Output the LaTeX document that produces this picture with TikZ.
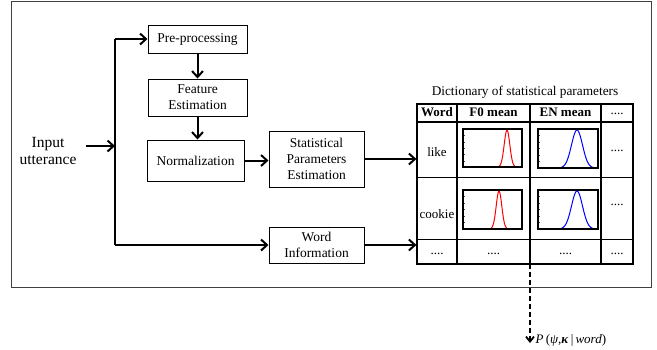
\documentclass[tikz,border=0pt]{standalone}
\usepackage{fontspec}
\setmainfont{Liberation Serif}
\usetikzlibrary{arrows.meta}
\begin{document}
\begin{tikzpicture}[x=1pt,y=-1pt,
  box/.style={draw, line width=1pt, align=center, inner sep=0pt,
    font=\fontsize{13.5}{16}\selectfont},
  arr/.style={line width=2pt, -{Straight Barb[length=6pt,width=11pt,line width=2pt]}},
  dasharr/.style={line width=2pt, dash pattern=on 5pt off 3pt,
    -{Straight Barb[length=5pt,width=8pt,line width=1.8pt]}},
  cell/.style={anchor=base, inner sep=0pt, font=\fontsize{13}{15}\selectfont},
  hcell/.style={cell, font=\fontsize{13}{15}\selectfont\bfseries},
  plotbox/.style={draw, line width=1.3pt},
  tick/.style={line width=0.3pt, black!70}]
\useasboundingbox (0,0) rectangle (657,349);
% outer frame
\draw[line width=1pt, black!75] (11,1) rectangle (651,287);

% input
\node[align=center, inner sep=0pt, font=\fontsize{15.5}{17}\selectfont] (in) at (48,151) {Input\\utterance};
\coordinate (a0) at (86,146);
\coordinate (j) at (115,146);
\coordinate (jt) at (115,39);
\coordinate (jb) at (115,245);

% boxes
\node[box, minimum width=99, minimum height=28] (pre) at (197.5,39) {Pre-processing};
\node[box, minimum width=99, minimum height=37] (feat) at (197.5,97.5) {Feature\\Estimation};
\node[box, minimum width=97, minimum height=41] (norm) at (195.5,160.5) {Normalization};
\node[box, minimum width=95, minimum height=56] (stat) at (316.5,159) {Statistical\\Parameters\\Estimation};
\node[box, minimum width=95, minimum height=36] (word) at (316.5,245) {Word\\Information};

% table
\node[draw, line width=1.2pt, minimum width=216, minimum height=160, inner sep=0pt] (tab) at (525,184) {};
\node[anchor=base, inner sep=0pt, font=\fontsize{13.3}{15}\selectfont] (title) at (525,95) {Dictionary of statistical parameters};
\draw[line width=2pt] (417,122) -- (633,122);
\draw[line width=1pt] (417,177) -- (633,177);
\draw[line width=1pt] (417,239) -- (633,239);
\draw[line width=1.1pt] (457,104) -- (457,264);
\draw[line width=1.1pt] (530,104) -- (530,264);
\draw[line width=1.1pt] (601,104) -- (601,264);

\node[hcell] (h1) at (437,116) {Word};
\node[hcell] (h2) at (493.5,116) {F0 mean};
\node[hcell] (h3) at (565.5,116) {EN mean};
\node[cell] (h4) at (617,114) {....};
\node[cell] (r1a) at (437,156) {like};
\node[cell] (r1d) at (617,151) {....};
\node[cell] (r2a) at (437,218) {cookie};
\node[cell] (r2d) at (617,205) {....};
\node[cell] (r3a) at (437,254) {....};
\node[cell] (r3b) at (493.5,254) {....};
\node[cell] (r3c) at (565.5,254) {....};
\node[cell] (r3d) at (617,254) {....};

% plots: #1 x0, #2 y0, #3 x1, #4 y1, #5 mu, #6 sigma, #7 colour
\newcommand{\gaussplot}[7]{%
  \foreach \k in {0,...,6} {
    \draw[tick] ({#1+\k*(#3-#1)/6},#4) -- ++(0,-1.5);
    \draw[tick] (#1,{#4-\k*(#4-#2)/6}) -- ++(1.5,0);
  }
  \draw[#7, line width=1pt, smooth] plot[domain=#1:#3, samples=90]
     (\x, {#4-(#4-#2-1)*exp(-((\x-#5)^2)/(2*#6*#6))});
  \draw[plotbox] (#1,#2) rectangle (#3,#4);
}
\gaussplot{463}{129}{522}{167}{507}{2.8}{red}
\gaussplot{538}{129}{598}{168}{577}{5.5}{blue}
\gaussplot{463}{190}{522}{229}{499}{2.8}{red}
\gaussplot{538}{190}{598}{229}{577}{5.5}{blue}

% connectors
\draw[arr] (a0) -- (j);
\draw[line width=2pt] (jt) -- (jb);
\draw[arr] (jt) -- (pre.west);
\draw[arr] (jb) -- (word.west);
\draw[arr] (pre.south) -- (feat.north);
\draw[arr] (feat.south) -- (feat.south |- norm.north);
\draw[arr] (norm.east) -- (norm.east -| stat.west);
\draw[arr] (stat.east) -- (stat.east -| tab.west);
\draw[arr] (word.east) -- (word.east -| tab.west);

\coordinate (d0) at (530,264);
\coordinate (d1) at (530,343);
\draw[dasharr] (d0) -- (d1);
\node[anchor=base west, inner sep=0pt, font=\fontsize{13}{15}\selectfont] (pform) at (535.5,343)
  {\textit{P}\,(\textit{ψ},\textbf{\textit{κ}}\,|\,\textit{word})};
\end{tikzpicture}
\end{document}
